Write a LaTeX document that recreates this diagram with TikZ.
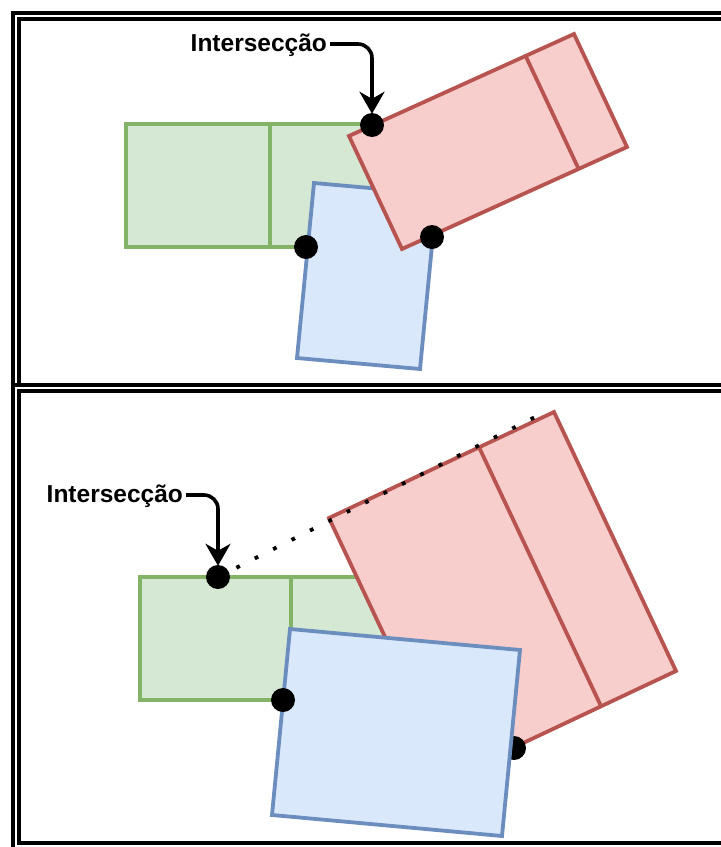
\documentclass[tikz,border=0pt]{standalone}
\usepackage{fontspec}
\setmainfont{Liberation Sans}
\usetikzlibrary{arrows.meta,calc}
\definecolor{gfill}{HTML}{D5E8D4}
\definecolor{gline}{HTML}{82B366}
\definecolor{bfill}{HTML}{DAE8FC}
\definecolor{bline}{HTML}{6C8EBF}
\definecolor{rfill}{HTML}{F8CECC}
\definecolor{rline}{HTML}{B85450}
\tikzset{
  frame/.style={draw=black, line width=4pt, double=white, double distance=2pt},
  greenbox/.style={draw=gline, fill=gfill, line width=3.8pt, line join=miter},
  bluebox/.style={draw=bline, fill=bfill, line width=3.8pt, line join=miter},
  redbox/.style={draw=rline, fill=rfill, line width=3.8pt, line join=miter},
  divgreen/.style={draw=gline, line width=3.8pt},
  divred/.style={draw=rline, line width=3.8pt},
  ipoint/.style={circle, fill=black, minimum size=24pt, inner sep=0pt},
  tag/.style={font=\bfseries\fontsize{24.5}{29}\selectfont, inner sep=0pt, anchor=base west},
  pointer/.style={draw=black, line width=3.6pt, rounded corners=14pt,
    -{Stealth[length=22pt,width=25pt,inset=7pt]}},
  extension/.style={draw=black, line width=3.8pt, dash pattern=on 3.8pt off 16.8pt}
}
\begin{document}
\begin{tikzpicture}[x=1pt,y=-1pt]
\useasboundingbox (0,0) rectangle (721,847);
\clip (0,0) rectangle (721,847);

% two framed panels
\draw[frame] (16,16) rectangle (740,388);
\draw[frame] (16,388) rectangle (740,846);

% ---------- upper panel ----------
\draw[greenbox] (126,124) rectangle (414,247);
\draw[divgreen] (270,124) -- (270,247);

\coordinate (bTL) at (314,183);
\coordinate (bTR) at (437,194);
\coordinate (bBR) at (420,369);
\coordinate (bBL) at (297,358);
\draw[bluebox] (bTL) -- (bTR) -- (bBR) -- (bBL) -- cycle;

\coordinate (rL) at (349,136);
\coordinate (rT) at (574,34);
\coordinate (rR) at (627,147);
\coordinate (rB) at (402,249);
\draw[redbox] (rL) -- (rT) -- (rR) -- (rB) -- cycle;
\draw[divred] ($(rL)!0.785!(rT)$) -- ($(rB)!0.785!(rR)$);

\node[ipoint] (p1) at (372,125) {};
\node[ipoint] (p2) at (306,247) {};
\node[ipoint] (p3) at (432,237) {};

\node[tag] (t1) at (190.5,51) {Intersecção};
\draw[pointer] ([xshift=3pt,yshift=7pt]t1.base east) -| ([yshift=-1pt]p1.north);

% ---------- lower panel ----------
\draw[greenbox] (140,577) rectangle (442,700);
\draw[divgreen] (291,577) -- (291,700);

\coordinate (sL) at (329,518);
\coordinate (sT) at (554,412);
\coordinate (sR) at (676,671);
\coordinate (sB) at (451,777);
\draw[redbox] (sL) -- (sT) -- (sR) -- (sB) -- cycle;
\draw[divred] ($(sL)!0.667!(sT)$) -- ($(sB)!0.667!(sR)$);

\node[ipoint] (q3) at (514,748) {};

\coordinate (cTL) at (290,629);
\coordinate (cTR) at (520,650);
\coordinate (cBR) at (502,836);
\coordinate (cBL) at (272,815);
\draw[bluebox] (cTL) -- (cTR) -- (cBR) -- (cBL) -- cycle;

\node[ipoint] (q1) at (218,577) {};
\node[ipoint] (q2) at (283,700) {};

\coordinate (ext) at (547,411);
\draw[extension] (q1.center) -- (ext);

\node[tag] (t2) at (46.5,502) {Intersecção};
\draw[pointer] ([xshift=3pt,yshift=7pt]t2.base east) -| ([yshift=-1pt]q1.north);
\end{tikzpicture}
\end{document}
